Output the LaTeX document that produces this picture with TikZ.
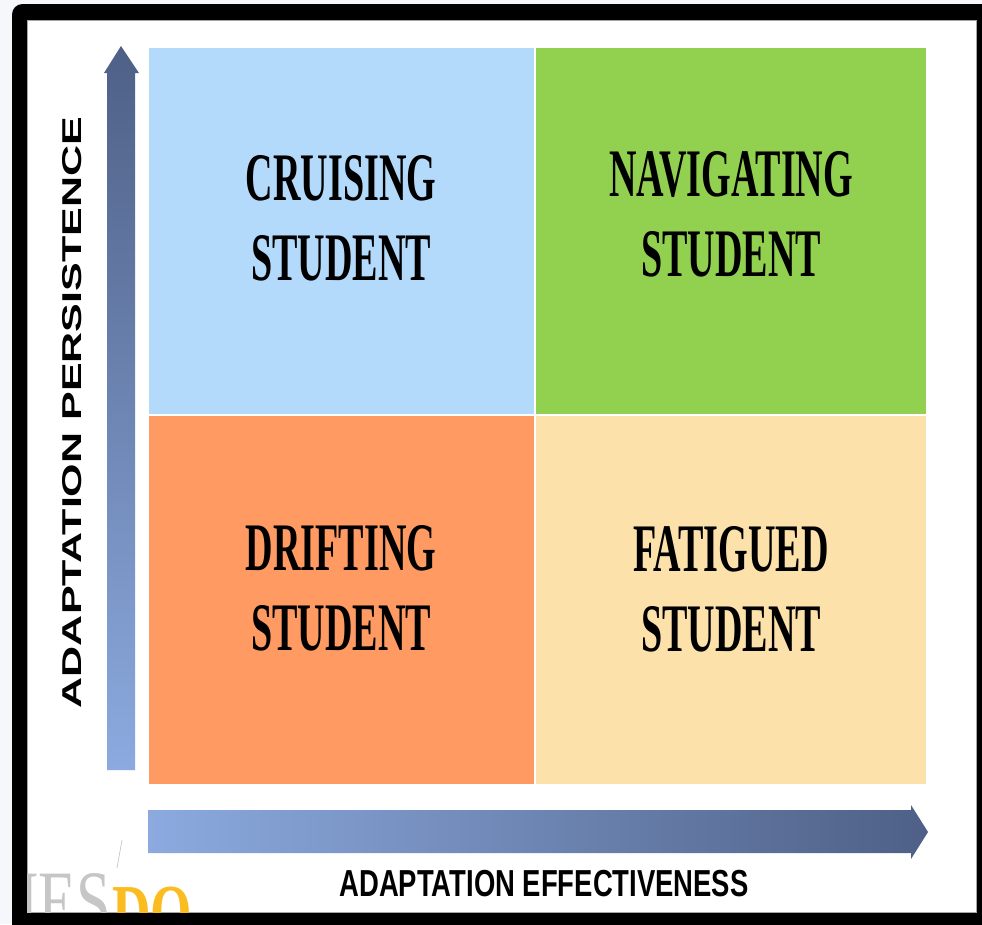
\documentclass[tikz,border=0pt]{standalone}
\usepackage{fontspec}
\setmainfont{Liberation Serif}
\setsansfont{Liberation Sans}
\newfontfamily\quadfont[FakeStretch=0.56]{Liberation Serif}
\newfontfamily\widefont[FakeStretch=1.58]{Liberation Sans}
\newfontfamily\narrowfont[FakeStretch=0.73]{Liberation Sans}

\begin{document}
\begin{tikzpicture}[x=0.02cm, y=-0.02cm,
  quadrant/.style={draw=white, line width=0.8pt},
  type/.style={font=\quadfont\bfseries\fontsize{38.7}{45.5}\selectfont, align=center, inner sep=0pt},
  axislabel/.style={inner sep=0pt}]

\definecolor{page bg}{HTML}{F5F7FB}
\definecolor{cruise}{HTML}{B4DAFB}
\definecolor{navigate}{HTML}{92D050}
\definecolor{drift}{HTML}{FF9A63}
\definecolor{fatigue}{HTML}{FDE1AA}
\definecolor{arrow dark}{HTML}{4E6086}
\definecolor{arrow light}{HTML}{8CAADF}
\definecolor{mark orange}{HTML}{FBBC22}

\def\uparrow{(107,770) -- (107,73) -- (104,73) -- (121,46) -- (139,73) -- (135,73) -- (135,770) -- cycle}
\def\rightarrow{(148,810) -- (911,810) -- (911,805) -- (928,832) -- (911,859) -- (911,853) -- (148,853) -- cycle}

\useasboundingbox (0,0) rectangle (982,924);
\fill[page bg] (0,0) rectangle (982,924);
\fill[black, rounded corners=6] (12,4) rectangle (1000,950);
\filldraw[fill=white, draw=gray!70, line width=0.5pt] (27,20) rectangle (976,912);

% watermark, cut by the frame
\begin{scope}
  \clip (27,20) rectangle (976,912);
  \draw[gray!45, line width=0.4pt] (122,840) -- (117,868);
  \node[anchor=base west, inner sep=0pt, text=gray!45, font=\fontsize{49}{49}\selectfont]
    (markies) at (18,930) {\scalebox{0.72}[1]{IES}};
  \node[anchor=base west, inner sep=0pt, text=mark orange, font=\bfseries\fontsize{46}{46}\selectfont]
    (markdo) at (112,940) {\scalebox{0.66}[1]{DO}};
\end{scope}

% quadrants
\filldraw[quadrant, fill=cruise]   (148,47)  rectangle (535,415);
\filldraw[quadrant, fill=navigate] (535,47)  rectangle (927,415);
\filldraw[quadrant, fill=drift]    (148,415) rectangle (535,785);
\filldraw[quadrant, fill=fatigue]  (535,415) rectangle (927,785);

\node[type] (cruising)   at (341,218) {CRUISING\\STUDENT};
\node[type] (navigating) at (731,214) {NAVIGATING\\STUDENT};
\node[type] (drifting)   at (341,588) {DRIFTING\\STUDENT};
\node[type] (fatigued)   at (731,589) {FATIGUED\\STUDENT};

% axes
\shade[top color=arrow dark, bottom color=arrow light] \uparrow;
\shade[left color=arrow light, right color=arrow dark] \rightarrow;

\node[axislabel, rotate=90, font=\widefont\bfseries\fontsize{15.5}{16}\selectfont]
  (persistence) at (72.5,412.5) {ADAPTATION PERSISTENCE};
\node[axislabel, font=\narrowfont\bfseries\fontsize{21.4}{22}\selectfont]
  (effectiveness) at (544,883.5) {ADAPTATION EFFECTIVENESS};
\end{tikzpicture}
\end{document}
